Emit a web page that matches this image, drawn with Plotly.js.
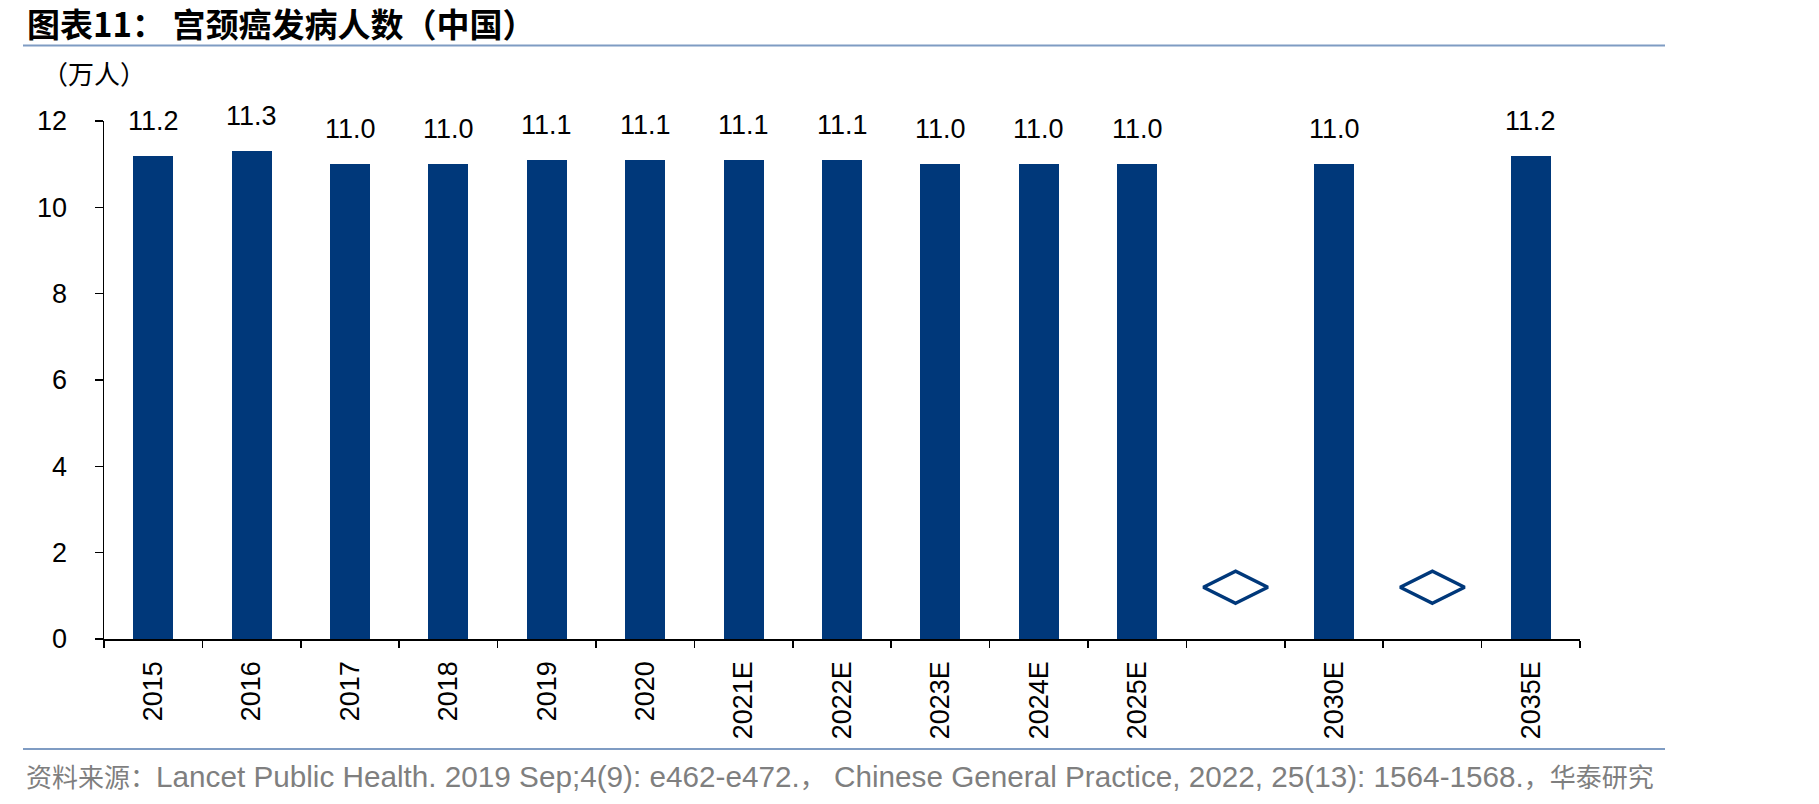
<!DOCTYPE html>
<html>
<head>
<meta charset="utf-8">
<script src="https://cdn.plot.ly/plotly-3.0.1.min.js"></script>
<style>html,body{margin:0;padding:0;background:#fff;overflow:hidden}</style>
</head>
<body>
<div id="chart"></div>
<script>
// Cervical cancer incidence in China (10k persons), actuals and estimates
const categories = ['2015','2016','2017','2018','2019','2020','2021E','2022E','2023E','2024E','2025E',' ','2030E','  ','2035E'];
const cases = [11.2, 11.3, 11.0, 11.0, 11.1, 11.1, 11.1, 11.1, 11.0, 11.0, 11.0, null, 11.0, null, 11.2];
// axis-break markers drawn in the skipped-year slots
const breakMarks = [null, null, null, null, null, null, null, null, null, null, null, 1.2, null, 1.2, null];
const yTicks = [0, 2, 4, 6, 8, 10, 12];

const W = 1819, H = 804;
const M = {l: 104, r: 239, t: 121, b: 165};
const PW = W - M.l - M.r, PH = H - M.t - M.b;
const px = x => (x - M.l) / PW;          // pixel -> paper x
const py = y => (H - M.b - y) / PH;       // pixel -> paper y

const navy = '#00387A';
const rule = '#7F9CC3';
const numFont = 'Liberation Sans, Arial, Noto Sans CJK SC, sans-serif';
const cjkFont = 'Noto Sans CJK SC, Liberation Sans, sans-serif';

const bars = {
  type: 'bar', x: categories, y: cases, width: 0.405,
  marker: {color: navy, line: {width: 0}},
  hoverinfo: 'skip', showlegend: false
};
const marks = {
  type: 'scatter', mode: 'markers', x: categories, y: breakMarks,
  marker: {symbol: 'diamond-wide-open', size: 46, color: navy, line: {width: 3.5, color: navy}},
  hoverinfo: 'skip', showlegend: false, cliponaxis: false
};

// value labels above each bar (category index used as x so numeric-looking names stay categorical)
const valueLabels = [];
categories.forEach((c, i) => {
  if (cases[i] == null) return;
  valueLabels.push({
    x: i, y: cases[i], xref: 'x', yref: 'y', text: cases[i].toFixed(1),
    showarrow: false, yanchor: 'bottom', yshift: 18,
    font: {family: numFont, size: 27, color: '#000'}
  });
});

const cjk = s => '<span style="font-family:Noto Sans CJK SC;font-size:26px">' + s + '</span>';
const sourceText = cjk('资料来源：') + 'Lancet Public Health. 2019 Sep;4(9): e462-e472.' + cjk('，') +
  ' Chinese General Practice, 2022, 25(13): 1564-1568.' + cjk('，华泰研究');

const layout = {
  width: W, height: H,
  margin: M,
  paper_bgcolor: '#fff', plot_bgcolor: '#fff',
  title: {
    text: '<b>图表11：\u00a0宫颈癌发病人数（中国）</b>',
    xref: 'container', yref: 'container', x: 27 / W, xanchor: 'left',
    y: 1 - 25 / H, yanchor: 'middle',
    font: {family: cjkFont, size: 33, color: '#000'}
  },
  xaxis: {
    type: 'category', categoryorder: 'array', categoryarray: categories,
    range: [-0.5, categories.length - 0.5], tickson: 'boundaries',
    ticks: 'outside', ticklen: 7, tickwidth: 1.5, tickcolor: '#000',
    showline: true, linecolor: '#000', linewidth: 1.5,
    showgrid: false, zeroline: false, tickangle: -90,
    ticklabelstandoff: 10,
    tickfont: {family: numFont, size: 27, color: '#000'}, fixedrange: true
  },
  yaxis: {
    range: [0, 12], tickvals: yTicks, ticktext: yTicks.map(String),
    ticks: 'outside', ticklen: 8, tickwidth: 1.5, tickcolor: '#000',
    showline: true, linecolor: '#000', linewidth: 1.5,
    showgrid: false, zeroline: false, ticklabelstandoff: 22,
    tickfont: {family: numFont, size: 27, color: '#000'}, fixedrange: true
  },
  shapes: [
    {type: 'line', xref: 'paper', yref: 'paper', x0: px(23), x1: px(1665), y0: py(45.5), y1: py(45.5),
     line: {color: rule, width: 2}},
    {type: 'line', xref: 'paper', yref: 'paper', x0: px(23), x1: px(1665), y0: py(749), y1: py(749),
     line: {color: rule, width: 2}}
  ],
  annotations: valueLabels.concat([
    {xref: 'paper', yref: 'paper', x: px(40), y: py(72), xanchor: 'left', yanchor: 'middle',
     text: '（万人）', showarrow: false, font: {family: cjkFont, size: 26, color: '#000'}},
    {xref: 'paper', yref: 'paper', x: px(24), y: py(775), xanchor: 'left', yanchor: 'middle',
     text: sourceText, showarrow: false, font: {family: numFont, size: 29.7, color: '#7F7F7F'}}
  ]),
  bargap: 0
};

Plotly.newPlot('chart', [bars, marks], layout, {staticPlot: true, displayModeBar: false});
</script>
</body>
</html>
